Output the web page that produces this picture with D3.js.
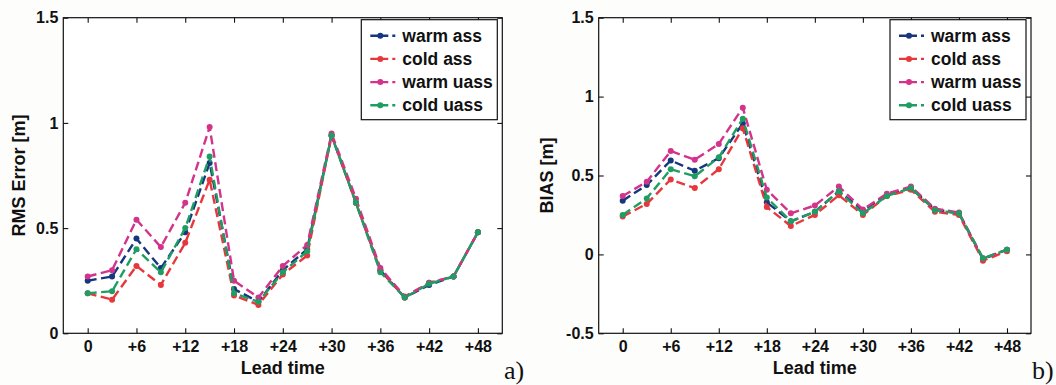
<!DOCTYPE html>
<html>
<head>
<meta charset="utf-8">
<script src="https://cdn.jsdelivr.net/npm/d3@7/dist/d3.min.js"></script>
<style>
  body { margin: 0; background: #fdfdfc; }
  svg { display: block; }
  .lbl { font-family: "Liberation Sans", Arial, Helvetica, sans-serif; font-weight: bold; fill: #111; }
</style>
</head>
<body>
<svg id="chart" width="1056" height="385"></svg>
<script>
// lead times (hours) and ticks
const leadTimes = [0, 3, 6, 9, 12, 15, 18, 21, 24, 27, 30, 33, 36, 39, 42, 45, 48]
const xTickValues = [0, 6, 12, 18, 24, 30, 36, 42, 48]
const seriesNames = ['warm ass', 'cold ass', 'warm uass', 'cold uass']

// panel a) RMS error [m]
const rmsWarmAss  = [0.25, 0.27, 0.45, 0.31, 0.48, 0.81, 0.21, 0.15, 0.30, 0.40, 0.94, 0.62, 0.30, 0.17, 0.23, 0.27, 0.48]
const rmsColdAss  = [0.19, 0.16, 0.32, 0.23, 0.43, 0.73, 0.18, 0.135, 0.28, 0.37, 0.94, 0.62, 0.30, 0.17, 0.24, 0.27, 0.48]
const rmsWarmUass = [0.27, 0.30, 0.54, 0.41, 0.62, 0.98, 0.25, 0.17, 0.32, 0.42, 0.95, 0.64, 0.31, 0.175, 0.24, 0.27, 0.48]
const rmsColdUass = [0.19, 0.20, 0.40, 0.29, 0.50, 0.84, 0.19, 0.15, 0.29, 0.39, 0.94, 0.62, 0.29, 0.17, 0.235, 0.27, 0.48]
const rmsTicks = [0, 0.5, 1, 1.5]

// panel b) BIAS [m]
const biasWarmAss  = [0.34, 0.44, 0.595, 0.53, 0.61, 0.83, 0.33, 0.21, 0.27, 0.40, 0.28, 0.375, 0.42, 0.285, 0.26, -0.03, 0.03]
const biasColdAss  = [0.24, 0.32, 0.475, 0.42, 0.54, 0.80, 0.30, 0.18, 0.25, 0.375, 0.25, 0.37, 0.41, 0.27, 0.25, -0.04, 0.02]
const biasWarmUass = [0.37, 0.46, 0.655, 0.60, 0.70, 0.93, 0.41, 0.26, 0.31, 0.43, 0.285, 0.385, 0.43, 0.29, 0.265, -0.025, 0.03]
const biasColdUass = [0.25, 0.355, 0.54, 0.495, 0.615, 0.86, 0.36, 0.21, 0.27, 0.40, 0.26, 0.37, 0.42, 0.28, 0.26, -0.025, 0.03]
const biasTicks = [-0.5, 0, 0.5, 1, 1.5]

const COLORS = ['#16367f', '#e6383c', '#d3338a', '#1f9d63']
const FONT = '"Liberation Sans", Arial, Helvetica, sans-serif'

const svg = d3.select('#chart')

const drawPanel = (p) => {
  const x = d3.scaleLinear().domain([-3, 51]).range([p.left, p.right])
  const y = d3.scaleLinear().domain(p.yDomain).range([p.bottom, p.top])
  const g = svg.append('g')

  // frame
  g.append('rect')
    .attr('x', p.left).attr('y', p.top)
    .attr('width', p.right - p.left).attr('height', p.bottom - p.top)
    .attr('fill', '#ffffff').attr('stroke', '#111').attr('stroke-width', 1.2)

  const fmtX = (d) => (d === 0 ? '0' : '+' + d)
  const fmtY = (d) => String(d)

  const styleAxis = (sel) => {
    sel.select('.domain').remove()
    sel.selectAll('line').attr('stroke', '#111').attr('stroke-width', 1.1)
    sel.selectAll('text').attr('font-family', FONT).attr('font-weight', 'bold')
      .attr('font-size', 16).attr('fill', '#111')
  }

  g.append('g').attr('transform', `translate(0,${p.bottom})`)
    .call(d3.axisBottom(x).tickValues(xTickValues).tickFormat(fmtX).tickSizeInner(-5).tickSizeOuter(0).tickPadding(7))
    .call(styleAxis)
  g.append('g').attr('transform', `translate(0,${p.top})`)
    .call(d3.axisTop(x).tickValues(xTickValues).tickFormat('').tickSizeInner(-5).tickSizeOuter(0))
    .call(styleAxis)
  g.append('g').attr('transform', `translate(${p.left},0)`)
    .call(d3.axisLeft(y).tickValues(p.yTicks).tickFormat(fmtY).tickSizeInner(-5).tickSizeOuter(0).tickPadding(5))
    .call(styleAxis)
  g.append('g').attr('transform', `translate(${p.right},0)`)
    .call(d3.axisRight(y).tickValues(p.yTicks).tickFormat('').tickSizeInner(-5).tickSizeOuter(0))
    .call(styleAxis)

  // series
  const line = d3.line().x((d) => x(d[0])).y((d) => y(d[1]))
  p.series.forEach((values, i) => {
    const pts = leadTimes.map((t, k) => [t, values[k]])
    g.append('path')
      .datum(pts)
      .attr('d', line)
      .attr('fill', 'none')
      .attr('stroke', COLORS[i])
      .attr('stroke-width', 2.4)
      .attr('stroke-dasharray', '9,4.5')
    g.selectAll(null)
      .data(pts)
      .enter()
      .append('circle')
      .attr('cx', (d) => x(d[0]))
      .attr('cy', (d) => y(d[1]))
      .attr('r', 3)
      .attr('fill', COLORS[i])
  })

  // axis labels
  g.append('text').attr('class', 'lbl')
    .attr('x', (p.left + p.right) / 2).attr('y', 374)
    .attr('text-anchor', 'middle').attr('font-size', 18)
    .text('Lead time')
  g.append('text').attr('class', 'lbl')
    .attr('transform', `translate(${p.yLabelX},${(p.top + p.bottom) / 2}) rotate(-90)`)
    .attr('text-anchor', 'middle').attr('font-size', 18)
    .text(p.yLabel)
  g.append('text')
    .attr('x', p.tagX).attr('y', 379)
    .attr('font-family', '"Liberation Serif", "Times New Roman", serif')
    .attr('font-size', 26).attr('fill', '#111')
    .text(p.tag)

  // legend
  const lx = p.right - 141
  const ly = p.top + 2
  const leg = g.append('g')
  leg.append('rect')
    .attr('x', lx).attr('y', ly).attr('width', 136).attr('height', 100)
    .attr('fill', '#ffffff').attr('stroke', '#111').attr('stroke-width', 1.2)
  seriesNames.forEach((name, i) => {
    const cy = ly + 16 + i * 23.2
    leg.append('line')
      .attr('x1', lx + 9).attr('x2', lx + 35).attr('y1', cy).attr('y2', cy)
      .attr('stroke', COLORS[i]).attr('stroke-width', 2.4)
      .attr('stroke-dasharray', '18,4,3')
    leg.append('circle').attr('cx', lx + 19).attr('cy', cy).attr('r', 3).attr('fill', COLORS[i])
    leg.append('text').attr('class', 'lbl')
      .attr('x', lx + 41).attr('y', cy + 6)
      .attr('font-size', 17.5)
      .text(name)
  })
}

drawPanel({
  left: 63.3, right: 502.3, top: 17.7, bottom: 333.3,
  yDomain: [0, 1.5], yTicks: rmsTicks, yLabel: 'RMS Error [m]', yLabelX: 25,
  tag: 'a)', tagX: 504,
  series: [rmsWarmAss, rmsColdAss, rmsWarmUass, rmsColdUass],
})

drawPanel({
  left: 598.7, right: 1031, top: 17.7, bottom: 333.3,
  yDomain: [-0.5, 1.5], yTicks: biasTicks, yLabel: 'BIAS [m]', yLabelX: 553,
  tag: 'b)', tagX: 1032,
  series: [biasWarmAss, biasColdAss, biasWarmUass, biasColdUass],
})
</script>
</body>
</html>
